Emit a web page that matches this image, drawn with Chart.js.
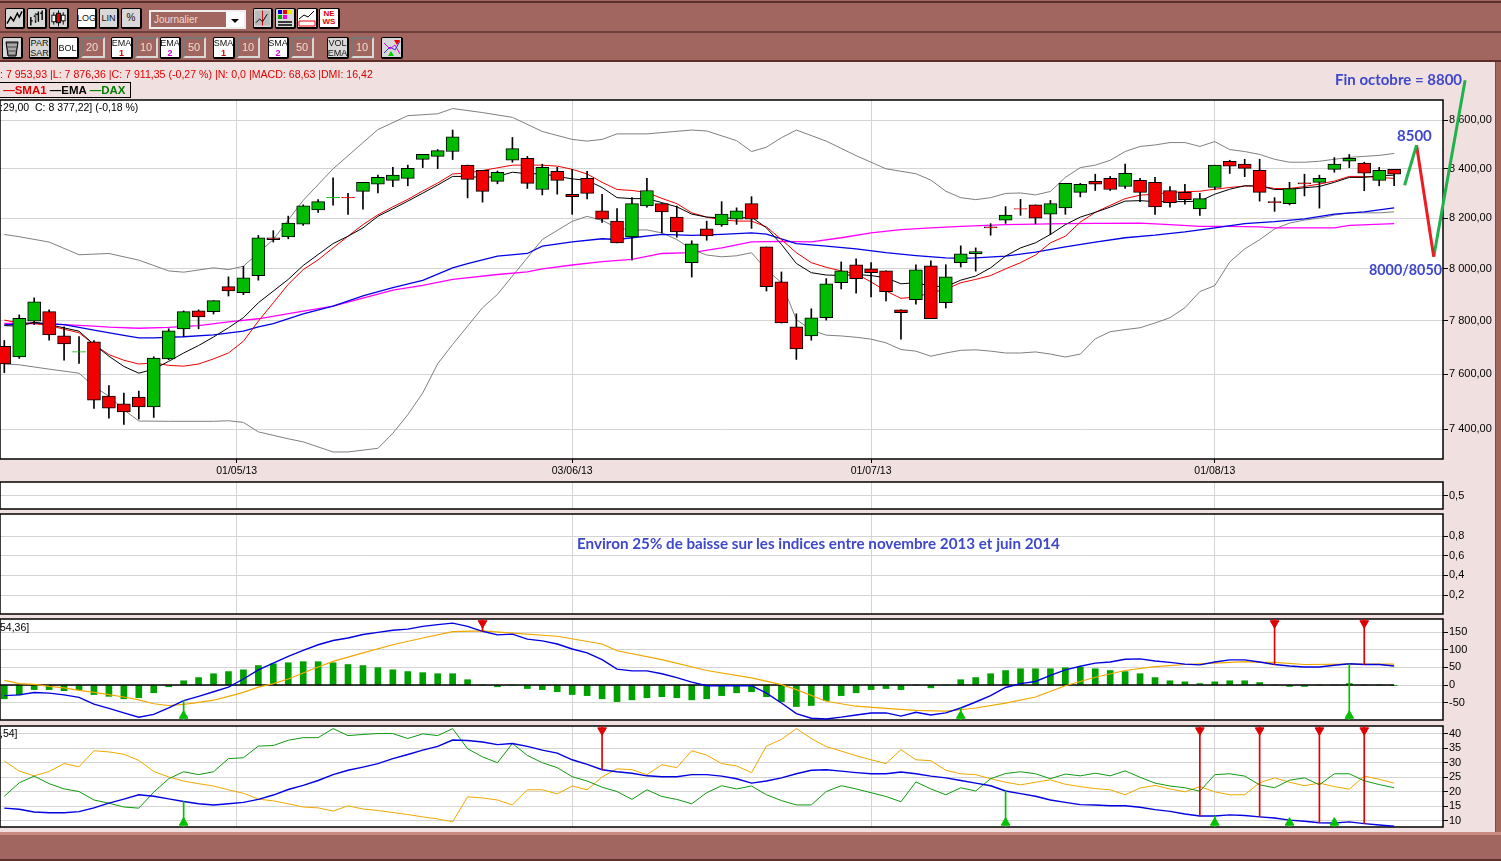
<!DOCTYPE html>
<html>
<head>
<meta charset="utf-8">
<title>DAX</title>
<script src="https://cdn.jsdelivr.net/npm/chart.js@4"></script>
<style>
html, body { margin: 0; padding: 0; width: 1501px; height: 861px; overflow: hidden; background: #a1665f; }
#page { position: absolute; left: 0; top: 62px; width: 1495px; height: 770px; background: #f0e0e0; border-right: 1px solid #7a4a45; }
#bar1 { position: absolute; left: 0; top: 31px; width: 1501px; height: 2px; background: #6e3f3a; }
#bar2 { position: absolute; left: 0; top: 60px; width: 1501px; height: 2px; background: #5c2f2b; }
#bar0 { position: absolute; left: 0; top: 1px; width: 1501px; height: 2px; background: #5c2f2b; }
#bar3 { position: absolute; left: 0; top: 832px; width: 1501px; height: 3px; background: #c98a82; }
#bar4 { position: absolute; left: 0; top: 859px; width: 1501px; height: 2px; background: #5c2f2b; }
canvas { position: absolute; left: 0; }
.txt { position: absolute; white-space: pre; z-index: 5; font-family: "Liberation Sans", Arial, sans-serif; }
.note { color: #3f48cc; font-family: Lato, "Open Sans", sans-serif; font-weight: 700; font-size: 15px; }
.btn { position: absolute; box-sizing: border-box; border: 1px solid #000; border-right-width: 2px; border-bottom-width: 2px; border-radius: 2px; background: #d8d8d8;
  font: 10px/10px "Liberation Sans", Arial, sans-serif; color: #111; text-align: center; display: flex; align-items: center; justify-content: center; z-index: 6; }
.on { background: #fff; }
.field { position: absolute; box-sizing: border-box; border: 2px solid #d8d8d8; border-top-color: #777; border-left-color: #777; background: #a1665f; color: #eadbd6;
  font: 11px/16px "Liberation Sans", Arial, sans-serif; padding-left: 3px; z-index: 6; }
</style>
</head>
<body>
<div id="page"></div>
<div id="bar0"></div><div id="bar1"></div><div id="bar2"></div><div id="bar3"></div><div id="bar4"></div>
<canvas id="cMain" width="1501" height="410" style="top:70px"></canvas>
<canvas id="cEmpty1" width="1501" height="47" style="top:472px"></canvas>
<canvas id="cEmpty2" width="1501" height="120" style="top:504px"></canvas>
<canvas id="cMacd" width="1501" height="121" style="top:609px"></canvas>
<canvas id="cDmi" width="1501" height="121" style="top:716px"></canvas>

<div class="txt" style="left:0;top:68px;font-size:10.6px;color:#e00000">: 7 953,93 |L: 7 876,36 |C: 7 911,35 (-0,27 %) |N: 0,0 |MACD: 68,63 |DMI: 16,42</div>
<div class="txt" style="left:-1px;top:82px;width:130px;height:14px;border:1px solid #000;font-size:11.5px;line-height:14px;font-weight:700"><span style="color:#e00000"> —SMA1</span> <span style="color:#000">—EMA</span> <span style="color:#008000">—DAX</span></div>
<div class="txt" style="left:0;top:101px;font-size:10.5px">:29,00  C: 8 377,22] (-0,18 %)</div>
<div class="txt" style="left:0;top:621px;font-size:10.5px">54,36]</div>
<div class="txt" style="left:0;top:727px;font-size:10.5px">,54]</div>
<div class="txt note" style="left:1335px;top:70px">Fin octobre = 8800</div>
<div class="txt note" style="left:1397px;top:126px">8500</div>
<div class="txt note" style="left:1369px;top:261px;font-size:14.3px">8000/8050</div>
<div class="txt note" style="left:577px;top:534px;font-size:15.2px">Environ 25% de baisse sur les indices entre novembre 2013 et juin 2014</div>

<script>
// ---- prix journaliers (DAX)
const opens = [7704,7664,7799,7835,7743,7682,7721,7520,7491,7516,7480,7657,7770,7838,7835,7931,7908,7973,8122,8125,8176,8233,8281,8283,8307,8336,8352,8360,8438,8450,8470,8414,8393,8348,8434,8442,8315,8389,8295,8360,8229,8188,8125,8249,8258,8204,8024,8157,8173,8196,8258,8086,7950,7777,7743,7812,7946,8016,8000,7992,7842,7881,8012,7869,8024,8059,8165,8192,8238,8253,8216,8241,8303,8348,8360,8327,8352,8344,8311,8303,8237,8323,8430,8418,8393,8266,8258,8342,8344,8397,8430,8422,8352,8397];
const highs = [7726,7823,7888,7842,7777,7741,7726,7558,7531,7538,7665,7770,7838,7842,7877,7969,8010,8131,8150,8208,8253,8274,8362,8299,8344,8373,8405,8414,8458,8478,8559,8414,8393,8390,8528,8450,8418,8405,8397,8389,8295,8238,8282,8360,8258,8248,8110,8188,8266,8241,8286,8086,7988,7827,7846,7962,8027,8039,8024,7992,7842,8016,8031,8016,8090,8082,8178,8246,8275,8253,8271,8340,8340,8377,8368,8418,8360,8364,8327,8336,8299,8414,8434,8438,8438,8282,8344,8377,8373,8445,8458,8426,8405,8397];
const lows = [7606,7659,7786,7727,7652,7640,7475,7439,7417,7436,7442,7654,7741,7770,7826,7895,7900,7956,8105,8118,8171,8223,8252,8215,8236,8301,8326,8330,8404,8400,8437,8281,8264,8338,8426,8319,8293,8296,8215,8277,8183,8102,8034,8244,8141,8124,7968,8112,8167,8175,8159,7914,7792,7655,7727,7803,7922,7906,7891,7876,7731,7864,7808,7849,8007,7991,8132,8179,8211,8177,8135,8215,8285,8311,8311,8319,8266,8215,8244,8256,8211,8315,8380,8367,8268,8227,8253,8289,8240,8385,8404,8310,8330,8330];
const closes = [7638,7810,7873,7747,7713,7684,7505,7476,7462,7480,7660,7762,7835,7815,7877,7915,7965,8122,8114,8180,8249,8266,8283,8281,8344,8364,8373,8401,8458,8474,8531,8356,8307,8385,8482,8340,8405,8352,8286,8299,8196,8102,8258,8311,8225,8145,8098,8129,8216,8229,8196,7931,7792,7694,7812,7942,7992,7962,7985,7912,7831,7996,7808,7969,8059,8067,8161,8212,8236,8200,8258,8340,8336,8336,8315,8381,8303,8245,8262,8274,8278,8414,8410,8401,8303,8262,8319,8338,8360,8418,8442,8381,8393,8377];

// ---- moyennes et bandes : [indice, valeur]
const sma1 = [[0,7803],[1,7792],[2,7790],[3,7782],[5,7755],[6,7711],[7,7673],[8,7652],[9,7638],[10,7642],[11,7633],[12,7630],[13,7638],[14,7657],[15,7679],[16,7723],[17,7799],[18,7869],[19,7940],[20,7997],[21,8035],[22,8082],[23,8128],[24,8174],[25,8213],[26,8245],[27,8275],[28,8309],[29,8341],[30,8378],[31,8382],[32,8392],[33,8403],[34,8414],[36,8414],[37,8410],[38,8397],[39,8378],[40,8344],[41,8315],[42,8311],[43,8303],[44,8279],[45,8258],[46,8221],[47,8204],[48,8193],[49,8188],[50,8188],[51,8165],[52,8115],[53,8063],[54,8024],[55,8006],[56,7992],[57,7981],[58,7949],[59,7914],[60,7886],[61,7891],[62,7908],[63,7921],[64,7946],[65,7959],[66,7974],[67,8000],[68,8024],[69,8054],[70,8102],[71,8128],[72,8184],[73,8223],[74,8251],[75,8278],[76,8292],[77,8296],[78,8303],[79,8306],[80,8308],[81,8316],[82,8323],[83,8329],[84,8329],[85,8319],[86,8319],[87,8327],[88,8337],[89,8349],[90,8368],[91,8368],[92,8364],[93,8360]];
const ema1 = [[0,7782],[1,7780],[2,7795],[3,7786],[5,7761],[6,7711],[7,7667],[8,7629],[9,7604],[10,7619],[11,7648],[12,7679],[13,7707],[14,7739],[15,7774],[16,7812],[17,7869],[18,7914],[19,7959],[20,8013],[21,8056],[22,8099],[23,8128],[24,8161],[25,8207],[26,8237],[27,8268],[28,8300],[29,8333],[30,8368],[31,8368],[32,8363],[33,8368],[34,8385],[35,8379],[36,8379],[37,8368],[38,8358],[39,8352],[40,8323],[41,8282],[42,8278],[43,8278],[44,8262],[45,8245],[46,8216],[47,8204],[48,8201],[49,8199],[50,8204],[51,8161],[52,8096],[53,8021],[54,7985],[55,7976],[56,7974],[57,7978],[58,7974],[59,7965],[60,7942],[61,7946],[62,7933],[63,7931],[64,7956],[65,7972],[66,8004],[67,8050],[68,8082],[69,8102],[70,8135],[71,8174],[72,8204],[73,8223],[74,8244],[75,8268],[76,8270],[77,8266],[78,8266],[79,8266],[80,8268],[81,8296],[82,8316],[83,8330],[84,8329],[85,8315],[86,8315],[87,8322],[88,8327],[89,8344],[90,8364],[91,8364],[92,8371],[93,8373]];
const ema2 = [[0,7785],[2,7792],[4,7786],[6,7765],[8,7745],[9,7736],[10,7736],[12,7740],[14,7747],[16,7761],[17,7777],[18,7790],[20,7827],[22,7856],[24,7895],[26,7927],[28,7955],[30,8004],[31,8020],[33,8050],[35,8060],[36,8089],[38,8106],[40,8118],[41,8115],[42,8122],[44,8135],[46,8131],[48,8135],[50,8141],[51,8136],[53,8099],[55,8089],[57,8078],[59,8063],[61,8052],[63,8043],[64,8041],[65,8043],[67,8050],[69,8065],[71,8086],[73,8105],[75,8122],[77,8132],[79,8145],[81,8161],[83,8178],[85,8186],[87,8197],[89,8216],[91,8225],[93,8241]];
const sma2 = [[0,7790],[2,7790],[4,7786],[6,7780],[7,7776],[9,7772],[11,7775],[13,7782],[15,7796],[17,7808],[20,7837],[22,7856],[24,7887],[26,7918],[28,7936],[30,7959],[33,7978],[35,7988],[36,8000],[38,8015],[40,8028],[42,8037],[44,8060],[46,8063],[48,8082],[50,8106],[52,8108],[54,8106],[56,8122],[58,8141],[60,8154],[62,8161],[64,8167],[67,8174],[69,8176],[71,8178],[73,8179],[76,8180],[78,8174],[80,8167],[82,8167],[84,8165],[85,8161],[87,8161],[89,8161],[90,8171],[93,8178]];
const bollUp = [[0,8135],[1,8126],[3,8105],[5,8055],[7,8060],[9,8034],[11,7992],[12,7987],[14,8004],[15,7997],[16,8010],[18,8115],[20,8271],[22,8399],[25,8561],[27,8619],[29,8627],[30,8649],[32,8632],[34,8612],[36,8553],[38,8520],[39,8513],[40,8520],[41,8543],[43,8543],[46,8559],[47,8555],[49,8515],[50,8470],[51,8488],[52,8527],[53,8559],[55,8513],[57,8453],[59,8399],[61,8379],[62,8353],[63,8308],[64,8282],[65,8274],[66,8282],[67,8299],[68,8301],[69,8293],[70,8307],[71,8364],[72,8404],[73,8414],[74,8434],[75,8470],[76,8491],[77,8497],[78,8507],[79,8507],[80,8491],[81,8511],[82,8478],[83,8470],[84,8458],[85,8438],[86,8426],[87,8426],[88,8430],[89,8438],[90,8446],[91,8450],[92,8454],[93,8462]];
const bollDown = [[0,7638],[1,7635],[3,7619],[5,7604],[6,7555],[7,7519],[8,7470],[9,7429],[11,7428],[14,7428],[15,7430],[16,7424],[17,7390],[19,7365],[20,7354],[22,7318],[23,7318],[25,7331],[26,7385],[27,7452],[28,7531],[29,7639],[30,7711],[31,7780],[32,7850],[33,7901],[34,7972],[36,8115],[38,8187],[39,8207],[40,8191],[41,8161],[42,8153],[43,8153],[44,8141],[45,8115],[46,8076],[47,8054],[48,8047],[49,8051],[50,8063],[51,7997],[52,7946],[53,7805],[54,7765],[55,7746],[56,7743],[57,7738],[58,7731],[59,7717],[60,7692],[61,7686],[62,7667],[63,7679],[64,7689],[65,7691],[66,7686],[67,7679],[68,7679],[69,7683],[70,7675],[71,7664],[72,7675],[73,7732],[74,7759],[75,7767],[76,7774],[77,7792],[78,7812],[79,7850],[80,7912],[81,7935],[82,8027],[83,8078],[84,8114],[85,8157],[86,8180],[87,8192],[88,8200],[89,8212],[90,8221],[91,8221],[92,8221],[93,8225]];

// traits dessines a la main sur le graphique
const drawnUp1 = [[93.7,8332],[94.5,8496]];
const drawnDown = [[94.5,8496],[95.65,8047]];
const drawnUp2 = [[95.65,8047],[97.75,8769]];

// ---- MACD
const macdHist = [-39,-28,-13,-13,-16,-13,-27,-32,-39,-36,-22,-5,12,21,32,38,43,55,60,63,66,66,63,58,55,49,43,38,35,32,32,15,0,-5,0,-10,-13,-19,-27,-30,-39,-47,-42,-36,-33,-36,-42,-39,-30,-22,-19,-33,-47,-61,-58,-44,-30,-22,-13,-10,-13,0,-8,0,15,21,32,41,46,46,46,49,50,46,41,38,32,21,12,9,4,9,12,12,7,0,-4,-4,0,0,4,0,0,-1];
const macdLine = [-30,-28,-21,-23,-28,-35,-54,-66,-79,-91,-83,-65,-44,-32,-19,-6,17,43,62,81,98,114,126,133,143,149,155,158,166,171,175,166,152,142,144,130,125,116,102,91,72,45,40,40,32,21,8,-2,-2,-2,-2,-23,-51,-81,-94,-96,-91,-85,-79,-79,-88,-77,-85,-79,-65,-48,-30,-7,4,10,27,43,53,62,65,73,74,68,64,59,57,65,71,71,65,58,54,51,51,56,60,58,58,54];
const macdSignal = [[0,13],[1,4],[2,2],[3,-4],[4,-8],[5,-15],[6,-21],[7,-27],[8,-34],[9,-42],[10,-53],[11,-58],[12,-55],[13,-49],[14,-43],[15,-32],[16,-21],[17,-6],[18,4],[19,17],[20,34],[21,51],[22,67],[24,91],[26,114],[28,133],[30,151],[32,153],[34,147],[37,138],[40,116],[41,97],[44,72],[47,41],[50,20],[52,1],[53,-13],[55,-46],[57,-60],[59,-66],[61,-72],[63,-74],[64,-70],[65,-65],[67,-51],[69,-34],[71,-2],[73,22],[75,41],[77,52],[79,58],[81,62],[83,66],[84,64],[85,64],[87,58],[90,59],[93,59]];
const macdZero = [[-1,0],[93,0]];
const macdSell = [32,85,91];
const macdBuy = [12,64,90];

// ---- DMI
const dmiAdx = [14.4,14.0,13.1,12.8,12.8,13.2,14.5,16.1,17.5,19.0,18.5,17.6,16.7,15.9,15.5,15.9,16.4,17.4,18.9,20.8,22.2,23.9,25.9,27.4,28.5,29.7,31.4,32.8,34.3,35.6,37.8,37.6,37.1,36.2,36.6,35.6,34.3,33.3,31.0,29.4,27.6,26.9,26.4,25.5,25.2,25.2,25.9,25.9,25.4,24.5,23.0,23.7,24.8,26.2,27.4,27.6,27.1,26.6,26.2,26.2,26.8,26.2,25.4,24.8,23.9,23.0,22.1,20.3,19.4,18.5,17.2,16.4,15.6,15.5,15.2,15.2,14.7,13.9,13.3,12.4,11.7,11.7,12.1,11.9,11.4,11.0,10.3,9.9,9.4,9.3,9.7,9.1,8.6,8.2];
const dmiPlus = [18.5,23.1,25.4,22.8,21.0,20.1,17.2,16.1,14.8,14.4,19.9,24.5,26.9,25.9,26.9,31.4,31.7,35.7,35.9,37.7,38.6,38.6,41.7,39.3,39.7,40,40,38.3,39.9,39.3,41.7,34.8,32,30,36.6,32.5,30,28.3,25.2,23.7,21.6,20.1,17.4,20.7,18.4,17.4,15.9,19.7,22.1,21,22,19,17,15.5,15.5,20.1,22.1,21,19.7,18.4,16.6,23.4,21,19,21.4,20.3,24.5,26.3,26.9,26.2,24.5,26.1,25.5,26.4,25.5,27.2,25,23,22,21.4,20.2,25.9,26.2,25.4,22.4,21.4,24,24.8,22.4,26.2,26.2,23.8,22.5,21.4];
const dmiMinus = [30.6,27.1,25.5,27,29.7,28.6,34.1,33.7,32.9,30.8,27,25.1,23.7,22.8,22,20.7,19.5,17.5,16.9,15.9,14.8,14.5,13.4,15.2,14.1,13.6,12.9,12.2,11.4,10.7,9.7,18.3,17.9,17.2,15.5,20.7,20.7,19.3,22,20.7,25.1,27.9,27.6,25.9,29.3,28.3,34.1,32.6,29.7,28.9,26.6,35.7,38,41.7,38.3,35.5,34,32.4,31,29.7,34.5,31,30.7,27.4,26.2,25.9,24.5,23.3,22.4,23.3,24.1,22.6,21.8,21.1,20.7,19,21.3,22.2,21,20,21.8,20,19,19,23.1,24.8,23.3,22.1,23,21.8,20.9,25.4,24.3,23];
const dmiSell = [40,80,84,88,91];
const dmiBuy = [12,67,81,86,89];

// ---- axes
const dateTicks = [15.55,38,58,81];
const dateLabels = ['01/05/13','03/06/13','01/07/13','01/08/13'];
const mainTicks = [7400,7600,7800,8000,8200,8400,8600];
const empty1Ticks = [0.5];
const empty2Ticks = [0.2,0.4,0.6,0.8];
const macdTicks = [-50,0,50,100,150];
const dmiTicks = [10,15,20,25,30,35,40];

const xMin = -0.288, xMax = 96.27;
const gridColor = '#d4d4d4';
const fontAxis = { family: '"Liberation Sans", Arial, sans-serif', size: 11 };

Chart.defaults.animation = false;

const panelFrame = {
    id: 'panelFrame',
    beforeDraw(chart) {
        const a = chart.chartArea, c = chart.ctx;
        c.fillStyle = '#fff';
        c.fillRect(a.left, a.top, a.width, a.height);
    },
    beforeDatasetsDraw(chart) {
        const a = chart.chartArea, c = chart.ctx;
        c.strokeStyle = '#000';
        c.lineWidth = 1.5;
        c.strokeRect(a.left, a.top, a.width, a.height);
    }
};

const pts = arr => arr.map((v, i) => Array.isArray(v) ? { x: v[0], y: v[1] } : { x: i, y: v });

function line(data, color, order, width) {
    return { type: 'line', data: pts(data), borderColor: color, borderWidth: width || 1, pointRadius: 0, tension: 0, order: order };
}

function bars(data, color, thickness, order) {
    return { type: 'bar', data: data, backgroundColor: color, barThickness: thickness, grouped: false, order: order };
}

function marks(idx, yVal, color, rotation) {
    return { type: 'line', data: idx.map(i => ({ x: i, y: yVal })), showLine: false, pointStyle: 'triangle', pointRadius: 5, pointRotation: rotation,
        pointBackgroundColor: color, pointBorderColor: color, order: 0 };
}

function xScale(labels) {
    return {
        type: 'linear', min: xMin, max: xMax, offset: false,
        afterBuildTicks: s => { s.ticks = dateTicks.map(v => ({ value: v })); },
        afterFit: s => { s.height = labels ? 21 : 0; },
        grid: { offset: false, color: gridColor, drawTicks: labels, tickLength: 4, tickColor: '#000' },
        border: { display: false },
        ticks: { display: labels, autoSkip: false, maxRotation: 0, color: '#000', font: { family: fontAxis.family, size: 10.5 }, padding: 2,
            callback: v => dateLabels[dateTicks.indexOf(v)] }
    };
}

function yScale(type, min, max, ticks, fmt) {
    return {
        type: type, position: 'right', min: min, max: max,
        afterBuildTicks: s => { s.ticks = ticks.map(v => ({ value: v })); },
        afterFit: s => { s.width = 58; },
        grid: { color: gridColor, tickLength: 5, tickColor: '#000' },
        border: { display: false },
        ticks: { autoSkip: false, color: '#000', font: fontAxis, padding: 1, callback: fmt }
    };
}

function panel(id, datasets, y, padTop, labels) {
    return new Chart(document.getElementById(id), {
        type: 'bar',
        data: { datasets: datasets },
        options: {
            responsive: false,
            events: [],
            layout: { autoPadding: false, padding: { top: padTop, bottom: labels ? 0 : 10, left: 0, right: 0 } },
            plugins: { legend: { display: false }, tooltip: { enabled: false } },
            scales: { x: xScale(labels), y: y }
        },
        plugins: [panelFrame]
    });
}

const priceFmt = v => Math.floor(v / 1000) + ' ' + String(v % 1000).padStart(3, '0') + ',00';
const commaFmt = v => String(v).replace('.', ',');

// bougies
const candleRange = opens.map((o, i) => ({ x: i, y: [lows[i], highs[i]] }));
const candleBody = opens.map((o, i) => ({ x: i, y: [o, closes[i]] }));
const upColor = '#00bb00', downColor = '#f00000';
const bodyColors = opens.map((o, i) => closes[i] >= o ? upColor : downColor);
const bodyBorders = opens.map((o, i) => Math.abs(closes[i] - o) <= 2 ? bodyColors[i] : '#000');

panel('cMain', [
    { type: 'bar', data: candleBody, backgroundColor: bodyColors, borderColor: bodyBorders, borderWidth: 1, borderSkipped: false, barThickness: 13, grouped: false, order: 1 },
    bars(candleRange, '#000', 1, 2),
    line(bollUp, '#808080', 8),
    line(bollDown, '#808080', 8),
    line(sma2, '#ff00ff', 7, 1.3),
    line(ema2, '#0000e6', 6, 1.3),
    line(sma1, '#f00000', 5),
    line(ema1, '#000000', 4),
    Object.assign(line(drawnUp1, '#22b14c', 0, 3), { clip: false }),
    Object.assign(line(drawnDown, '#ed1c24', 0, 3), { clip: false }),
    Object.assign(line(drawnUp2, '#22b14c', 0, 3), { clip: false })
], yScale('logarithmic', 7293, 8685, mainTicks, priceFmt), 30, true);

panel('cEmpty1', [], yScale('linear', 0, 1, empty1Ticks, commaFmt), 10, false);
panel('cEmpty2', [], yScale('linear', 0.007, 1.024, empty2Ticks, commaFmt), 10, false);

// MACD
const macdTop = 186.8, macdBottom = -99;
panel('cMacd', [
    line(macdLine, '#0000e0', 2, 1.4),
    line(macdSignal, '#f0a800', 3, 1.2),
    line(macdZero, '#000', 4, 1.5),
    bars(macdHist.map((v, i) => ({ x: i, y: v })), '#00a000', 6, 5),
    bars(macdSell.map(i => ({ x: i, y: [macdLine[i], macdTop] })), '#e00000', 1, 1),
    bars(macdBuy.map(i => ({ x: i, y: [macdBottom, macdLine[i]] })), '#00c000', 1, 1),
    marks(macdSell, macdTop - 12, '#e00000', 180),
    marks(macdBuy, macdBottom + 12, '#00c000', 0)
], yScale('linear', macdBottom, macdTop, macdTicks, commaFmt), 10, false);

// DMI
const dmiTop = 42.6, dmiBottom = 7.93;
panel('cDmi', [
    line(dmiAdx, '#0000e0', 2, 1.4),
    line(dmiPlus, '#109a10', 3),
    line(dmiMinus, '#f0a800', 3),
    bars(dmiSell.map(i => ({ x: i, y: [dmiAdx[i], dmiTop] })), '#e00000', 1, 1),
    bars(dmiBuy.map(i => ({ x: i, y: [dmiBottom, dmiAdx[i]] })), '#00c000', 1, 1),
    marks(dmiSell, dmiTop - 1.5, '#e00000', 180),
    marks(dmiBuy, dmiBottom + 1.5, '#00c000', 0)
], yScale('linear', dmiBottom, dmiTop, dmiTicks, commaFmt), 10, false);

// ---- barre d'outils
function addBtn(x, y, w, h, html, on) {
    const d = document.createElement('div');
    d.className = 'btn' + (on ? ' on' : '');
    d.style.cssText = `left:${x}px;top:${y}px;width:${w}px;height:${h}px`;
    d.innerHTML = html;
    document.body.appendChild(d);
}
function addField(x, w, text) {
    const d = document.createElement('div');
    d.className = 'field';
    d.style.cssText = `left:${x}px;top:37px;width:${w}px;height:21px`;
    d.textContent = text;
    document.body.appendChild(d);
}
const svg = body => `<svg width="18" height="18" viewBox="0 0 18 18">${body}</svg>`;
const sub = (t, c) => `<span style="font-size:9px">${t}<br><b style="color:${c}">${c === '#d000d0' ? 2 : 1}</b></span>`;

addBtn(5, 8, 20, 21, svg('<polyline points="1,15 5,8 8,12 12,4 14,8 17,2" fill="none" stroke="#000" stroke-width="1.5"/>'));
addBtn(27, 8, 20, 21, svg('<path d="M3 8v9M3 12h2M8 4v10M8 7h-2M11 2v11M11 5h-2M15 1v10M15 4h-2" stroke="#000" stroke-width="1.5" fill="none"/><path d="M8 4v8" stroke="#0a0"/>'));
addBtn(49, 8, 20, 21, svg('<path d="M4 3v13M9 1v17M14 3v13" stroke="#000"/><rect x="2" y="6" width="4" height="7" fill="#fff" stroke="#000"/><rect x="7" y="4" width="4" height="10" fill="#e00" stroke="#000"/><rect x="12" y="6" width="4" height="6" fill="#fff" stroke="#000"/>'));
addBtn(77, 8, 20, 21, '<span style="font-size:9px">LOG</span>', true);
addBtn(99, 8, 20, 21, '<span style="font-size:9px">LIN</span>');
addBtn(121, 8, 21, 21, '%');
const combo = document.createElement('div');
combo.className = 'field';
combo.style.cssText = 'left:149px;top:10px;width:97px;height:19px;border-color:#eee;font-size:10px;line-height:15px';
combo.innerHTML = 'Journalier<span style="position:absolute;right:0;top:0;width:18px;height:15px;background:#fff"><svg width="18" height="15"><path d="M5 7h8l-4 4z" fill="#000"/></svg></span>';
document.body.appendChild(combo);
addBtn(253, 8, 20, 21, svg('<rect x="1" y="1" width="16" height="16" fill="#bbb"/><path d="M9 1v16" stroke="#c00"/><polyline points="2,14 6,10 9,13 14,5" fill="none" stroke="#000"/>'));
addBtn(275, 8, 21, 21, svg('<rect x="2" y="1" width="4" height="4" fill="#00c"/><rect x="7" y="1" width="4" height="4" fill="#e00"/><rect x="12" y="1" width="4" height="4" fill="#ee0"/><rect x="2" y="6" width="4" height="4" fill="#0a0"/><rect x="7" y="6" width="4" height="4" fill="#e0e"/><path d="M2 13h14M2 16h14" stroke="#000" stroke-width="1.5"/>'));
addBtn(297, 8, 21, 21, svg('<polyline points="1,10 6,6 10,8 16,2" fill="none" stroke="#000"/><path d="M1 12h16v5h-16z" fill="#fff" stroke="#e00"/>'), true);
addBtn(319, 8, 21, 21, '<span style="color:#e00000;font:bold 8px/8px Liberation Sans">NE<br>WS</span>', true);

addBtn(2, 37, 21, 22, svg('<path d="M3 3h12l-2 14h-8z" fill="#777" stroke="#000"/><path d="M4 6h10M5 10h8M6 14h6" stroke="#ddd"/>'));
addBtn(29, 37, 22, 22, '<span style="font-size:9px">PAR<br>SAR</span>');
addBtn(57, 37, 22, 22, '<span style="font-size:9px">BOL</span>', true);
addField(81, 24, '20');
addBtn(111, 37, 22, 22, sub('EMA', '#e00000'), true);
addField(135, 23, '10');
addBtn(160, 37, 21, 22, sub('EMA', '#d000d0'), true);
addField(183, 23, '50');
addBtn(213, 37, 22, 22, sub('SMA', '#e00000'), true);
addField(237, 23, '10');
addBtn(268, 37, 21, 22, sub('SMA', '#d000d0'), true);
addField(291, 23, '50');
addBtn(327, 37, 22, 22, '<span style="font-size:9px">VOL<br>EMA</span>');
addField(351, 23, '10');
addBtn(381, 37, 22, 22, svg('<polyline points="1,4 7,10 12,6 17,15" fill="none" stroke="#e0e"/><polyline points="1,14 7,8 12,11 17,2" fill="none" stroke="#33c"/><path d="M11 1h6l-3 5z" fill="#e00"/><path d="M5 17h6l-3-5z" fill="#0c0"/>'));
</script>
</body>
</html>
